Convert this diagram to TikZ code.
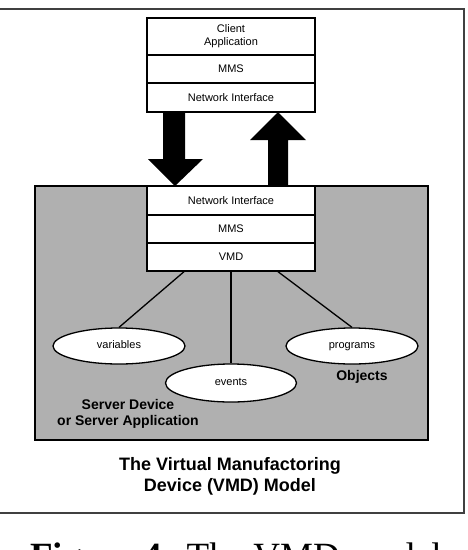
\documentclass[tikz,border=0pt]{standalone}
\usepackage{fontspec}
\setmainfont{Liberation Sans}
\newfontfamily\capfont{Liberation Serif}
\usetikzlibrary{shapes.geometric,calc}
\tikzset{
  layerbox/.style={draw=black,line width=1.4pt,fill=white,minimum width=168pt,inner sep=0pt,font=\fontsize{11}{13}\selectfont,align=center},
  objell/.style={ellipse,draw=black,line width=1.3pt,fill=white,minimum width=132pt,minimum height=36pt,inner sep=0pt,text height=8pt,text depth=2.4pt,font=\fontsize{11}{13}\selectfont},
  boldlab/.style={font=\bfseries\fontsize{14}{16}\selectfont,align=center,inner sep=0pt},
  link/.style={line width=1.3pt,draw=black},
  blockarrow/.style={fill=black,draw=none}
}
\begin{document}
\begin{tikzpicture}[x=1pt,y=-1pt]
\useasboundingbox (0,0) rectangle (467,550);
\clip (0,0) rectangle (467,550);
% outer frame
\draw[line width=2pt,draw=black!75] (-5,8.7) rectangle (463.5,513);
% gray server area
\draw[line width=1.6pt,fill=black!31] (35,186) rectangle (428,440);
% client stack
\node[layerbox,minimum height=37pt] (client) at (231,36.5) {Client\\Application};
\node[layerbox,minimum height=28pt] (cmms) at (231,69) {MMS};
\node[layerbox,minimum height=29pt] (cni) at (231,97.5) {Network Interface};
% server stack
\node[layerbox,minimum height=29pt] (sni) at (231,200.5) {Network Interface};
\node[layerbox,minimum height=28pt] (smms) at (231,229) {MMS};
\node[layerbox,minimum height=28pt] (vmd) at (231,257) {VMD};
% block arrows
\fill[blockarrow] (163,112) -- (185,112) -- (185,159) -- (203,159) -- (175,186) -- (148,159) -- (163,159) -- cycle;
\fill[blockarrow] (268,186) -- (288,186) -- (288,140) -- (306,140) -- (278,112) -- (250,140) -- (268,140) -- cycle;
% objects
\node[objell] (vars) at (119,346) {variables};
\node[objell] (progs) at (352,346) {programs};
\node[objell,minimum width=131pt,minimum height=38pt] (events) at (231,383) {events};
\draw[link] ($(vmd.south)+(-47,0)$) -- (vars.north);
\draw[link] (vmd.south) -- (events.north);
\draw[link] ($(vmd.south)+(47,0)$) -- (progs.north);
% labels
\node[boldlab] (objects) at (362,377) {Objects};
\node[boldlab] (server) at (128,414) {Server Device\\or Server Application};
\node[font=\bfseries\fontsize{18}{21}\selectfont,align=center,inner sep=0pt] (title) at (230,476) {The Virtual Manufactoring\\Device (VMD) Model};
% caption (cut off at the lower edge, as in the reference)
\node[anchor=base west,inner sep=0pt,font=\capfont\fontsize{37}{40}\selectfont] (caption) at (30,568) {\textbf{Figure 4:} The VMD model};
\end{tikzpicture}
\end{document}
